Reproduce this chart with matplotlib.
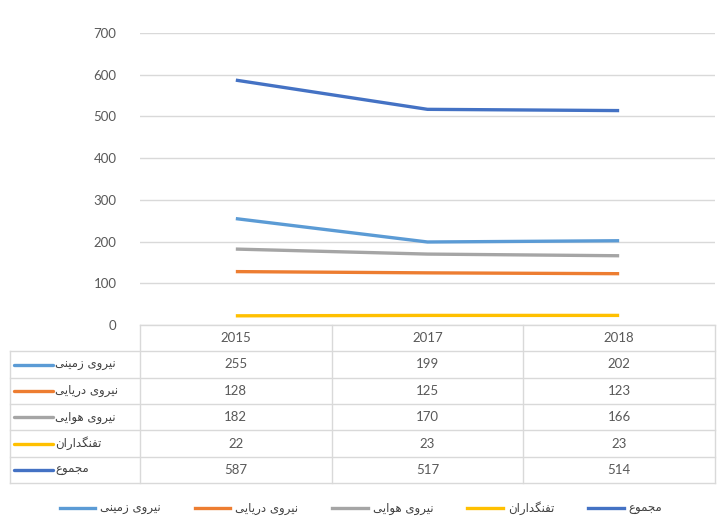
import matplotlib
matplotlib.use("Agg")
import matplotlib.pyplot as plt
from matplotlib.lines import Line2D

plt.rcParams['font.family'] = ['Lato', 'DejaVu Sans']

years = ['2015', '2017', '2018']
series_names = ['نیروی زمینی', 'نیروی دریایی', 'نیروی هوایی', 'تفنگداران', 'مجموع']
ground = [255, 199, 202]
navy = [128, 125, 123]
air = [182, 170, 166]
marines = [22, 23, 23]
total = [587, 517, 514]
series_values = [ground, navy, air, marines, total]
colors = ['#5B9BD5', '#ED7D31', '#A5A5A5', '#FFC000', '#4472C4']
yticks = [0, 100, 200, 300, 400, 500, 600, 700]

# --- minimal Persian shaping (matplotlib has no complex text layout) ---
DUAL = {'ن': (0xFEE5, 0xFEE6, 0xFEE7, 0xFEE8), 'ی': (0xFBFC, 0xFBFD, 0xFBFE, 0xFBFF),
        'م': (0xFEE1, 0xFEE2, 0xFEE3, 0xFEE4), 'ه': (0xFEE9, 0xFEEA, 0xFEEB, 0xFEEC),
        'ت': (0xFE95, 0xFE96, 0xFE97, 0xFE98), 'ف': (0xFED1, 0xFED2, 0xFED3, 0xFED4),
        'گ': (0xFB92, 0xFB93, 0xFB94, 0xFB95), 'ج': (0xFE9D, 0xFE9E, 0xFE9F, 0xFEA0),
        'ع': (0xFEC9, 0xFECA, 0xFECB, 0xFECC)}
RIGHT = {'ر': (0xFEAD, 0xFEAE), 'و': (0xFEED, 0xFEEE), 'ز': (0xFEAF, 0xFEB0),
         'د': (0xFEA9, 0xFEAA), 'ا': (0xFE8D, 0xFE8E)}


def shape(s):
    out = []
    joins = lambda ch: ch in DUAL or ch in RIGHT
    for i, c in enumerate(s):
        prev = i > 0 and s[i - 1] in DUAL and joins(c)
        nxt = c in DUAL and i + 1 < len(s) and joins(s[i + 1])
        if c in DUAL:
            f = DUAL[c]
            g = f[3] if (prev and nxt) else f[1] if prev else f[2] if nxt else f[0]
            out.append(chr(g))
        elif c in RIGHT:
            f = RIGHT[c]
            out.append(chr(f[1] if prev else f[0]))
        else:
            out.append(c)
    return ''.join(reversed(out))


W, H = 722, 519
fig = plt.figure(figsize=(W / 100, H / 100), dpi=100)

# main plot axes
x0, x1 = 140, 715
ytop, ybot = 33, 325
ax = fig.add_axes([x0 / W, 1 - ybot / H, (x1 - x0) / W, (ybot - ytop) / H])
xs = list(range(len(years)))
for vals, c in zip(series_values, colors):
    ax.plot(xs, vals, color=c, lw=2.4, solid_capstyle='butt')
ax.set_xlim(-0.5, len(years) - 0.5)
ax.set_ylim(0, 700)
ax.set_yticks(yticks)
ax.set_yticklabels([str(v) for v in yticks])
ax.set_xticks([])
ax.tick_params(axis='y', length=0, pad=17, labelsize=9.5, labelcolor='#595959')
for sp in ax.spines.values():
    sp.set_visible(False)
ax.yaxis.grid(True, color='#D9D9D9', lw=1)
ax.set_axisbelow(True)

# data table axes
tl, tr = 10, 715
tt, tb = 325, 483
unit = (x1 - x0) / len(years)
xmin_t = -0.5 - (x0 - tl) / unit
axt = fig.add_axes([tl / W, 1 - tb / H, (tr - tl) / W, (tb - tt) / H])
axt.set_xlim(xmin_t, len(years) - 0.5)
nrows = len(series_names) + 1
axt.set_ylim(nrows, 0)
axt.axis('off')
gc = '#D9D9D9'
axt.plot([-0.5, len(years) - 0.5], [0, 0], color=gc, lw=1, clip_on=False)
for r in range(1, nrows + 1):
    axt.plot([xmin_t, len(years) - 0.5], [r, r], color=gc, lw=1, clip_on=False)
axt.plot([xmin_t, xmin_t], [1, nrows], color=gc, lw=1, clip_on=False)
for b in range(len(years) + 1):
    axt.plot([b - 0.5, b - 0.5], [0, nrows], color=gc, lw=1, clip_on=False)
for j, yr in enumerate(years):
    axt.text(j, 0.5, yr, ha='center', va='center', fontsize=9.5, color='#595959')
lx0 = xmin_t + 4 / unit
lx1 = xmin_t + 43 / unit
tx = xmin_t + 45 / unit
for i, (name, vals, c) in enumerate(zip(series_names, series_values, colors)):
    r = i + 1.5
    axt.plot([lx0, lx1], [r, r], color=c, lw=2.4, solid_capstyle='round', clip_on=False)
    axt.text(tx, r, shape(name), ha='left', va='center', fontsize=8.5, color='#404040',
             family=['DejaVu Sans'])
    for j, v in enumerate(vals):
        axt.text(j, r, str(v), ha='center', va='center', fontsize=9.5, color='#595959')

# legend
handles = [Line2D([], [], color=c, lw=2.4) for c in colors]
leg = fig.legend(handles, [shape(n) for n in series_names], loc='center',
                 bbox_to_anchor=(0.5, 1 - 508 / H), ncol=5, frameon=False, fontsize=8.5,
                 handlelength=3.0, handletextpad=0.4, columnspacing=2.9)
for t in leg.get_texts():
    t.set_color('#404040')
    t.set_family(['DejaVu Sans'])

fig.savefig('out.png', dpi=100)
